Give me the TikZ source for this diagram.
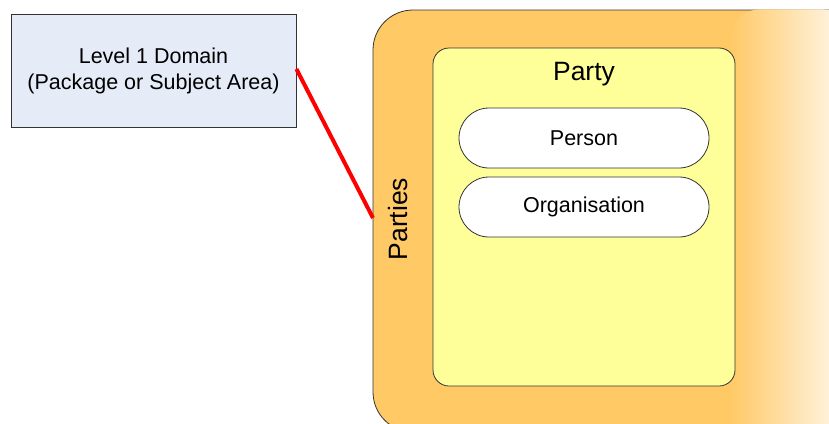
\documentclass[tikz,border=0pt]{standalone}
\usepackage{fontspec}
\setmainfont{Liberation Sans}
\begin{document}
\begin{tikzpicture}[x=1pt,y=-1pt,
  outline/.style={draw=black!80,line width=0.8pt},
  domainbox/.style={outline,fill=domainblue,minimum width=285pt,minimum height=113pt,align=center,font=\fontsize{21.5}{26}\selectfont},
  pill/.style={outline,fill=white,rounded corners=30pt,minimum width=250pt,minimum height=60pt,font=\fontsize{21.5}{24}\selectfont},
  title/.style={font=\fontsize{26.5}{30}\selectfont},
  link/.style={draw=red,line width=4pt}]
\definecolor{domainblue}{HTML}{E6ECF7}
\definecolor{partiesorange}{HTML}{FFC966}
\definecolor{partyyellow}{HTML}{FFFF99}
\definecolor{fadeend}{HTML}{FFFAF4}
\useasboundingbox (0,0) rectangle (829,423);
\begin{scope}
\clip (0,0) rectangle (829,423);
% outer container for the parties group
\filldraw[outline,fill=partiesorange,rounded corners=40pt] (373,10) rectangle (900,432);
% soft fade on the right-hand side
\shade[left color=partiesorange,right color=fadeend,rounded corners=30pt] (730,9.4) rectangle (852,480);
\end{scope}
\node[rotate=90,title] (parties) at (398,219) {Parties};
% inner party box
\draw[outline,fill=partyyellow,rounded corners=16pt] (433,48) rectangle (735,386);
\node[title] (party) at (584,74) {Party};
\node[pill] (person) at (584,138) {Person};
\node[pill] (org) at (584,207) {Organisation};
% domain box and its link
\node[domainbox] (domain) at (153.5,70.5) {Level 1 Domain\\(Package or Subject Area)};
\coordinate (partiesedge) at (373,218);
\draw[link] (domain.east |- 0,69) -- (partiesedge);
\end{tikzpicture}
\end{document}
